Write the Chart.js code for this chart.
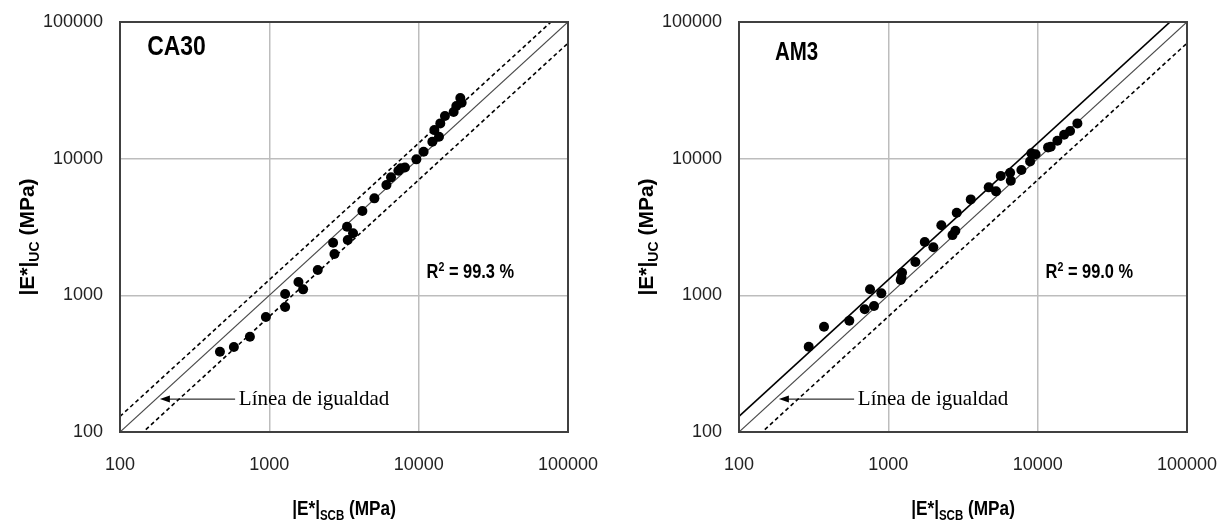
<!DOCTYPE html>
<html>
<head>
<meta charset="utf-8">
<script src="https://cdn.jsdelivr.net/npm/chart.js@4.4.1/dist/chart.umd.min.js"></script>
<style>
  html, body { margin: 0; padding: 0; background: #fff; }
  body { width: 1228px; height: 522px; position: relative; overflow: hidden; }
  .panel { position: absolute; top: 0; width: 609px; height: 522px; }
  #left { left: 0; }
  #right { left: 619px; }
</style>
</head>
<body>
<div class="panel" id="left"><canvas id="ca30" width="609" height="522"></canvas></div>
<div class="panel" id="right"><canvas id="am3" width="609" height="522"></canvas></div>
<script>
// |E*| from SCB vs |E*| from uniaxial compression, two mixtures
const axis_ticks = [100, 1000, 10000, 100000];
const line_ends = [100, 100000];   // línea de igualdad
const band_up = 1.3;               // +30 %
const band_low = 0.7;              // -30 %

const ca30_scb = [467, 579, 741, 948, 1276, 1276, 1567, 1683, 2110, 2729, 2673, 3350, 3314, 3636, 4200, 5053, 6081, 6530, 7316, 7600, 8095, 9652, 10790, 12350, 13680, 12735, 13960, 15000, 17140, 17870, 19400, 19000];
const ca30_uc = [387, 419, 498, 694, 821, 1022, 1251, 1106, 1531, 2005, 2425, 2538, 3175, 2842, 4137, 5124, 6412, 7297, 8154, 8500, 8630, 9885, 11233, 13291, 14460, 16180, 18120, 20490, 21920, 24270, 25650, 27750];

const am3_scb = [293, 371, 548, 695, 754, 802, 898, 1210, 1225, 1236, 1517, 1753, 2002, 2264, 2690, 2810, 2871, 3564, 4700, 5262, 5658, 6605, 6540, 7782, 8898, 9080, 9680, 11740, 12220, 13550, 15030, 16480, 18450];
const am3_uc = [421, 589, 652, 790, 1107, 835, 1034, 1294, 1350, 1463, 1752, 2455, 2245, 3252, 2759, 2969, 4020, 5036, 6166, 5765, 7460, 6892, 7886, 8253, 9550, 10940, 10770, 12090, 12230, 13520, 14960, 15920, 18120];

const SANS = "Arial, 'Liberation Sans', sans-serif";
const SERIF = "'Times New Roman', 'Liberation Serif', serif";

function to_points(xs, ys) {
    return xs.map((x, i) => ({ x: x, y: ys[i] }));
}

function band_line(k) {
    return line_ends.map(v => ({ x: v, y: v * k }));
}

// draw a run of bold text pieces [text, size, dy], squeezed horizontally by hs
function draw_parts(ctx, parts, x, y, align, hs) {
    let w = 0;
    parts.forEach(p => {
        ctx.font = 'bold ' + p[1] + 'px ' + SANS;
        w += ctx.measureText(p[0]).width;
    });
    ctx.save();
    ctx.translate(x, y);
    ctx.scale(hs, 1);
    let cx = align === 'center' ? -w / 2 : 0;
    ctx.textAlign = 'left';
    ctx.textBaseline = 'alphabetic';
    parts.forEach(p => {
        ctx.font = 'bold ' + p[1] + 'px ' + SANS;
        ctx.fillText(p[0], cx, p[2]);
        cx += ctx.measureText(p[0]).width;
    });
    ctx.restore();
}

const extras = {
    id: 'extras',
    afterDraw(chart, args, o) {
        const ctx = chart.ctx;
        const a = chart.chartArea;
        const xs = chart.scales.x;
        const ys = chart.scales.y;
        ctx.save();

        // frame
        ctx.strokeStyle = '#404040';
        ctx.lineWidth = 2;
        ctx.strokeRect(a.left, a.top, a.right - a.left, a.bottom - a.top);

        ctx.fillStyle = '#000';

        // mixture name
        draw_parts(ctx, [[o.name, o.nameSize, 0]],
            xs.getPixelForValue(o.namePos[0]), ys.getPixelForValue(o.namePos[1]), 'left', 0.82);

        // R2
        draw_parts(ctx, [['R', 20, 0], ['2', 13, -7], [' = ' + o.r2 + ' %', 20, 0]],
            xs.getPixelForValue(11300), ys.getPixelForValue(1500) + 7, 'left', 0.82);

        // arrow to the equality line
        const ay = ys.getPixelForValue(174);
        const tip = xs.getPixelForValue(185);
        const tail = xs.getPixelForValue(590);
        ctx.strokeStyle = '#000';
        ctx.lineWidth = 1;
        ctx.beginPath();
        ctx.moveTo(tail, ay);
        ctx.lineTo(tip + 4, ay);
        ctx.stroke();
        ctx.beginPath();
        ctx.moveTo(tip, ay);
        ctx.lineTo(tip + 10, ay - 3.5);
        ctx.lineTo(tip + 10, ay + 3.5);
        ctx.closePath();
        ctx.fill();
        ctx.font = '21px ' + SERIF;
        ctx.textAlign = 'left';
        ctx.textBaseline = 'middle';
        ctx.fillText('Línea de igualdad', xs.getPixelForValue(625), ay);

        // axis titles
        draw_parts(ctx, [['|E*|', 21, 0], ['SCB', 14, 5], [' (MPa)', 21, 0]],
            (a.left + a.right) / 2, 515, 'center', 0.82);
        ctx.save();
        ctx.translate(34, (a.top + a.bottom) / 2 + 10);
        ctx.rotate(-Math.PI / 2);
        draw_parts(ctx, [['|E*|', 21, 0], ['UC', 14, 5], [' (MPa)', 21, 0]], 0, 0, 'center', 1);
        ctx.restore();

        ctx.restore();
    }
};

function make_chart(id, xs, ys, upper_style, opts) {
    const datasets = [
        {
            data: to_points(xs, ys),
            backgroundColor: '#000',
            borderColor: '#000',
            pointRadius: 5,
            pointBorderWidth: 0
        },
        {
            data: band_line(1),
            showLine: true,
            borderColor: '#4a4a4a',
            borderWidth: 1.2,
            pointRadius: 0
        },
        {
            data: band_line(band_up),
            showLine: true,
            borderColor: '#000',
            borderWidth: 1.6,
            borderDash: upper_style === 'solid' ? [] : [4, 3],
            pointRadius: 0
        },
        {
            data: band_line(band_low),
            showLine: true,
            borderColor: '#000',
            borderWidth: 1.6,
            borderDash: [4, 3],
            pointRadius: 0
        }
    ];

    const log_axis = (pos) => ({
        type: 'logarithmic',
        position: pos,
        min: 100,
        max: 100000,
        afterBuildTicks: s => { s.ticks = axis_ticks.map(v => ({ value: v })); },
        afterFit: s => {
            if (pos === 'left') s.width = 120;
            else s.height = 90;
            // keep the plot box where the layout padding puts it
            s.paddingTop = 0;
            s.paddingBottom = 0;
            s.paddingLeft = 0;
            s.paddingRight = 0;
        },
        ticks: {
            callback: v => String(v),
            font: { family: SANS, size: 18 },
            color: '#222',
            padding: pos === 'left' ? 17 : 22,
            maxRotation: 0,
            autoSkip: false
        },
        grid: { color: '#bdbdbd', lineWidth: 1.5, drawTicks: false },
        border: { display: false }
    });

    new Chart(document.getElementById(id), {
        type: 'scatter',
        data: { datasets: datasets },
        plugins: [extras],
        options: {
            responsive: false,
            animation: false,
            layout: { padding: { left: 0, top: 22, right: 41, bottom: 0 } },
            scales: { x: log_axis('bottom'), y: log_axis('left') },
            plugins: {
                legend: { display: false },
                tooltip: { enabled: false },
                extras: opts
            }
        }
    });
}

make_chart('ca30', ca30_scb, ca30_uc, 'dashed', { name: 'CA30', nameSize: 28, namePos: [152, 57300], r2: '99.3' });
make_chart('am3', am3_scb, am3_uc, 'solid', { name: 'AM3', nameSize: 25, namePos: [174, 52600], r2: '99.0' });
</script>
</body>
</html>
